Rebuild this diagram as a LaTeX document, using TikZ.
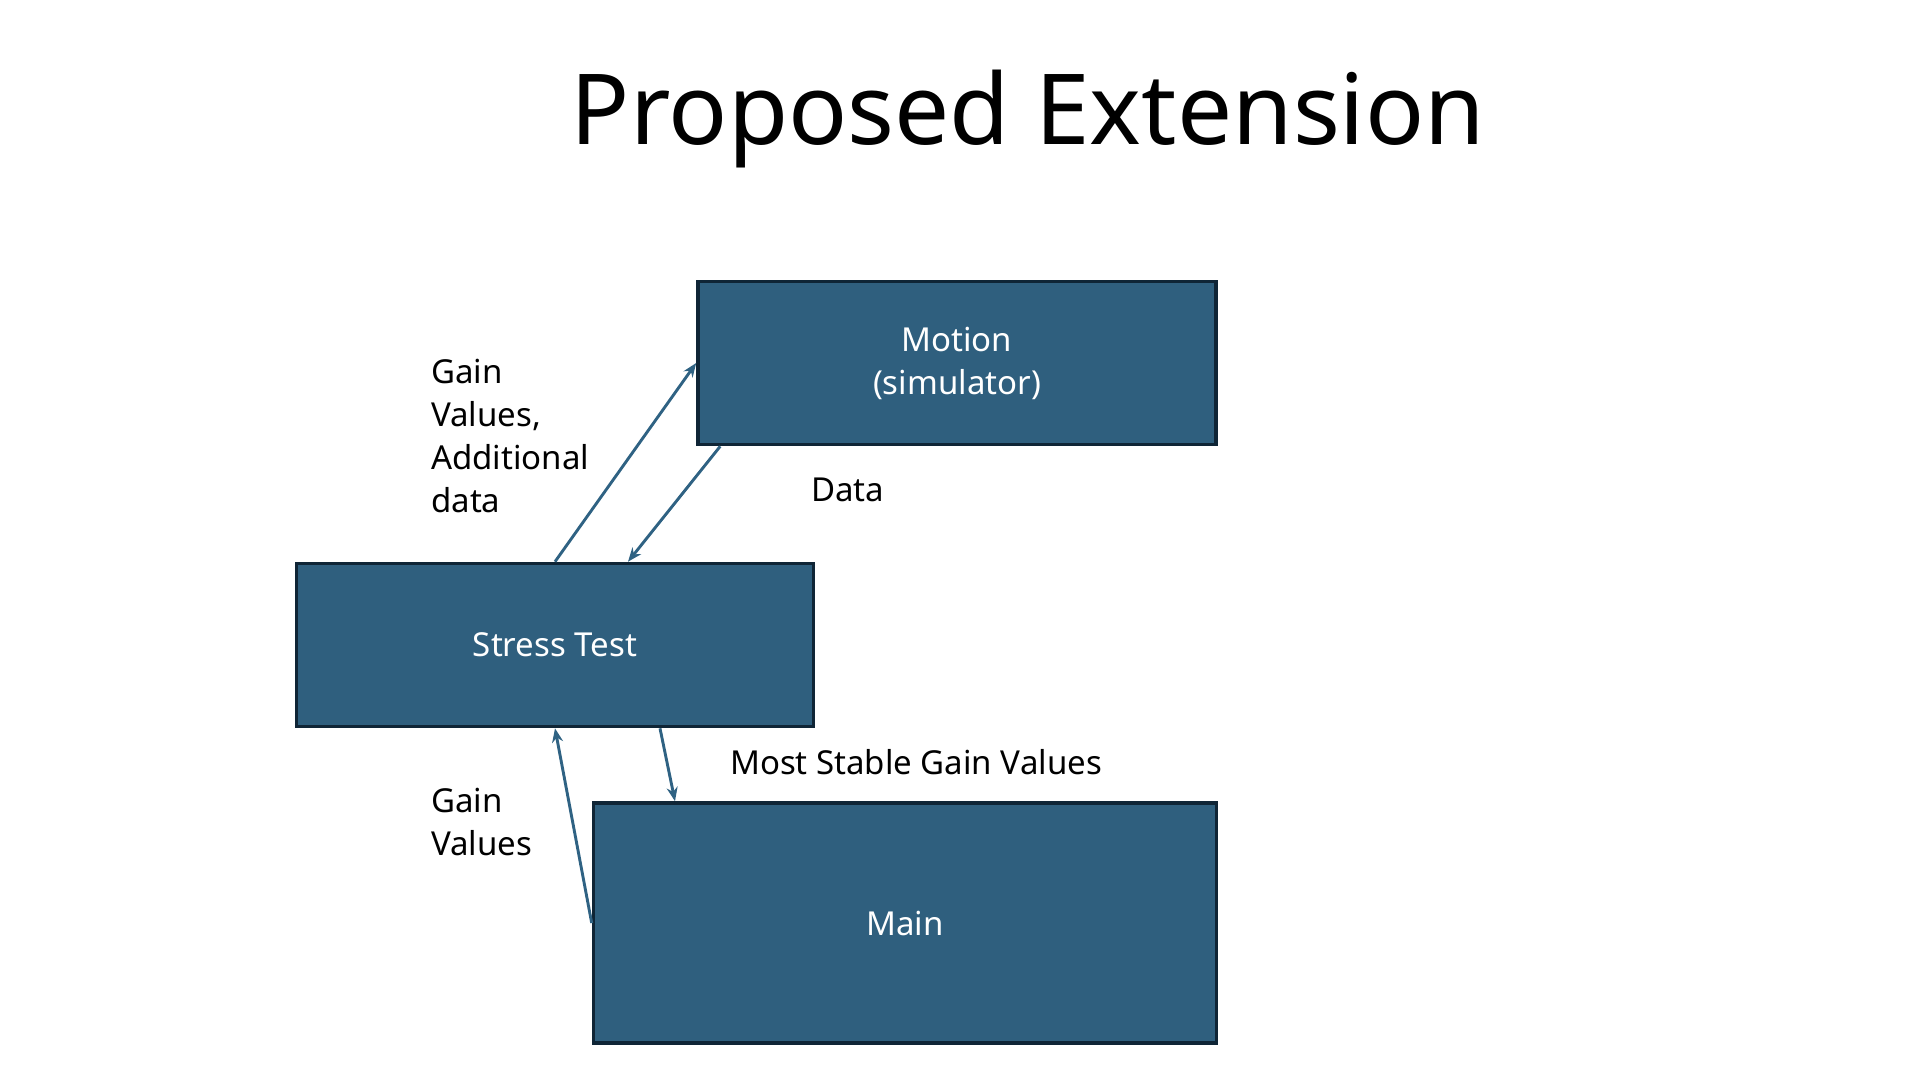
\documentclass[tikz,border=0pt]{standalone}
\usepackage{fontspec}
\setmainfont{Noto Sans}
\usetikzlibrary{arrows.meta}
\definecolor{boxblue}{HTML}{2F5F7E}
\definecolor{boxedge}{HTML}{0F2536}
\definecolor{arrowblue}{HTML}{2F6283}
\tikzset{
  block/.style={rectangle, draw=boxedge, fill=boxblue, line width=3.6pt, text=white, align=center, font=\fontsize{33}{43}\selectfont},
  flow/.style={arrowblue, line width=2.9pt, -{Stealth[length=14pt,width=11pt]}},
  lbl/.style={align=left, inner sep=0pt, font=\fontsize{33}{43}\selectfont}
}
\begin{document}
\begin{tikzpicture}[x=1pt,y=-1pt]
    \useasboundingbox (0,0) rectangle (1906,1068);

    % Title
    \node[anchor=base, inner sep=0pt, font=\fontsize{98}{110}\selectfont] (title) at (1028,144) {Proposed Extension};

    % Draw the three blocks
    \node[block, minimum width=518pt, minimum height=163pt] (motion) at (957,363) {Motion\\(simulator)};
    \node[block, minimum width=517pt, minimum height=163pt] (stress) at (555,645) {Stress Test};
    \node[block, minimum width=623pt, minimum height=240pt] (main) at (905,923) {Main};

    % Labels beside the arrows
    \node[lbl, anchor=base west] (gvad) at (431,512) {Gain\\Values,\\Additional\\data};
    \node[lbl, anchor=base west] (data) at (811,501) {Data};
    \node[lbl, anchor=base west] (stable) at (730,774) {Most Stable Gain Values};
    \node[lbl, anchor=base west] (gv) at (431,855) {Gain\\Values};

    % Draw the arrows
    \draw[flow] (stress.north) -- (motion.west); % Stress Test to Motion
    \draw[flow] ([xshift=24pt]motion.south west) -- ([xshift=73pt]stress.north); % Motion to Stress Test
    \draw[flow] ([xshift=105pt]stress.south) -- ([xshift=-230pt]main.north); % Stress Test to Main
    \draw[flow] (main.west) -- (stress.south); % Main to Stress Test
\end{tikzpicture}
\end{document}
